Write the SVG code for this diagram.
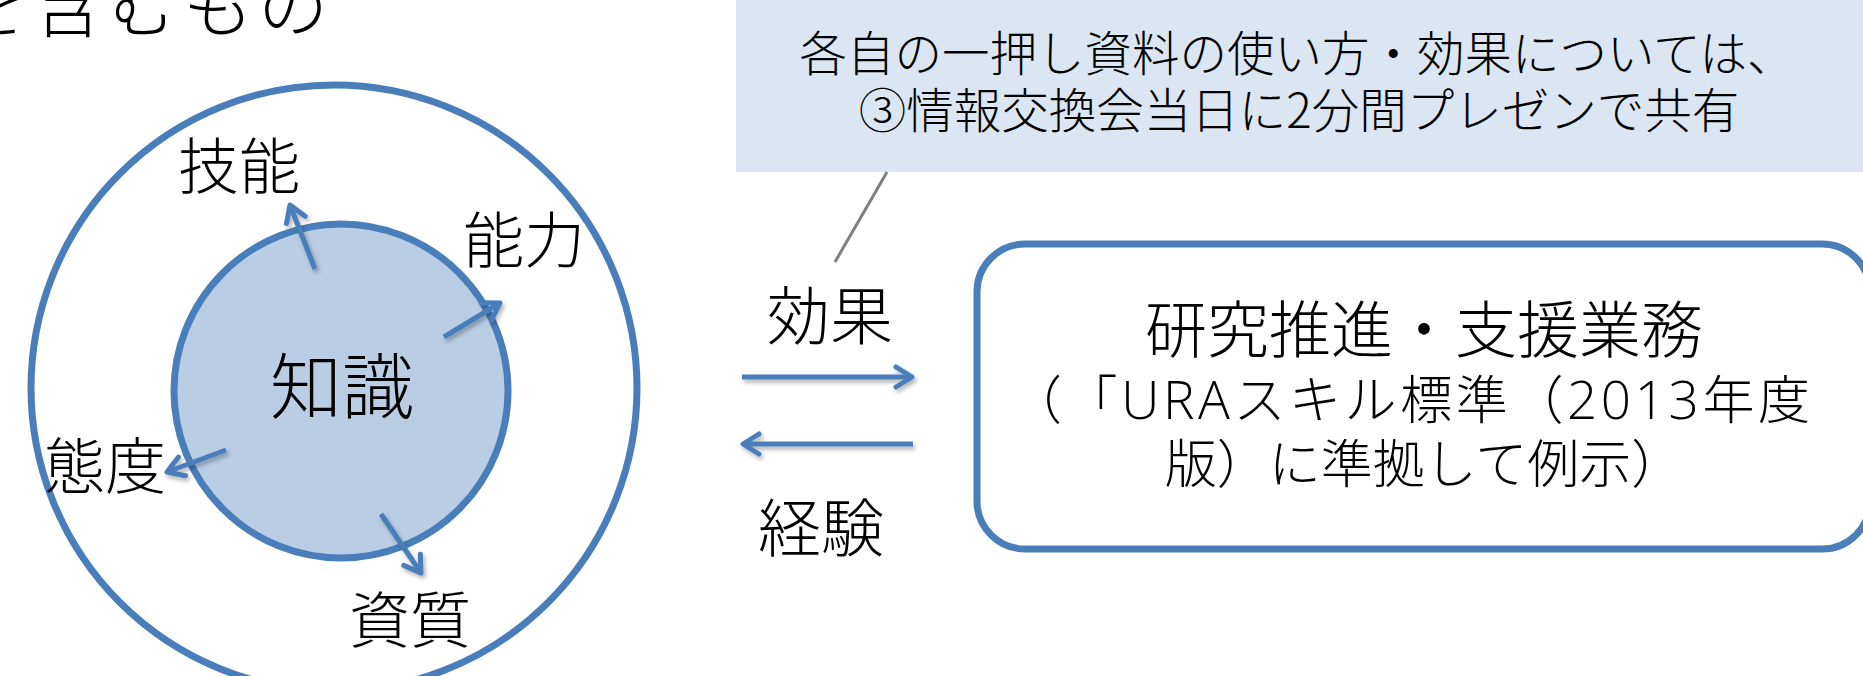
<svg xmlns="http://www.w3.org/2000/svg" width="1863" height="676" viewBox="0 0 1863 676">
  <style>
    .t { font-family: "Noto Sans CJK JP", "Noto Sans", sans-serif; font-weight: 300; fill: #000; text-spacing-trim: space-all; }
    .mid { text-anchor: middle; }
    .lat { font-family: "Open Sans", "Noto Sans", sans-serif; font-weight: 300; }
    .ring { fill: none; stroke: #4a7ebb; stroke-width: 7; }
    .arr { fill: none; stroke: #4a7ebb; stroke-width: 5; marker-end: url(#head); filter: url(#sh); }
  </style>
  <defs>
    <marker id="head" viewBox="0 0 22 26" refX="19" refY="13" markerWidth="22" markerHeight="26" markerUnits="userSpaceOnUse" orient="auto">
      <path d="M3,3 L19,13 L3,23" fill="none" stroke="#4a7ebb" stroke-width="5" stroke-linecap="round" stroke-linejoin="round"/>
    </marker>
    <filter id="sh" filterUnits="userSpaceOnUse" x="0" y="0" width="1863" height="676">
      <feDropShadow dx="2" dy="3" stdDeviation="2" flood-color="#000" flood-opacity="0.3"/>
    </filter>
  </defs>

  <g id="title">
    <text class="t" x="-42" y="32" font-size="70" letter-spacing="5">を含むもの</text>
  </g>

  <g id="outer-circle">
    <circle class="ring" cx="334" cy="388" r="303"/>
  </g>
  <g id="knowledge">
    <circle cx="341" cy="391" r="167" fill="#b9cde5" stroke="#4a7ebb" stroke-width="7"/>
    <text class="t mid" x="342" y="413" font-size="72">知識</text>
  </g>
  <g id="skill"><text class="t mid" x="239" y="189" font-size="61">技能</text></g>
  <g id="ability"><text class="t mid" x="524" y="263" font-size="61">能力</text></g>
  <g id="attitude"><text class="t mid" x="105" y="489" font-size="61">態度</text></g>
  <g id="quality"><text class="t mid" x="410" y="643" font-size="61">資質</text></g>

  <g id="callout">
    <rect x="736" y="-10" width="1140" height="182" fill="#dce6f2"/>
    <line x1="887" y1="172" x2="835" y2="262" stroke="#7f7f7f" stroke-width="3"/>
    <text class="t mid" x="1297" y="71" font-size="47.5">各自の一押し資料の使い方・効果については、</text>
    <text class="t mid" x="1299" y="128" font-size="47.5">③情報交換会当日に2分間プレゼンで共有</text>
  </g>

  <g id="effect-label"><text class="t mid" x="830" y="339" font-size="63">効果</text></g>
  <g id="experience-label"><text class="t mid" x="821" y="551" font-size="63">経験</text></g>

  <g id="work">
    <rect x="977" y="244" width="893" height="305" rx="48" ry="48" fill="#fff" stroke="#4a7ebb" stroke-width="7"/>
    <text class="t mid" x="1424" y="353" font-size="62">研究推進・支援業務</text>
    <text class="t" x="1010" y="419" font-size="52" textLength="800" lengthAdjust="spacing">（「<tspan class="lat" font-size="53">URA</tspan>スキル標準（<tspan class="lat" font-size="53">2013</tspan>年度</text>
    <text class="t mid" x="1424" y="483" font-size="52">版）に準拠して例示）</text>
  </g>

  <g id="connectors">
    <line class="arr" x1="315" y1="269" x2="290" y2="205"/>
    <line class="arr" x1="444" y1="337" x2="500" y2="303"/>
    <line class="arr" x1="226" y1="450" x2="167" y2="472"/>
    <line class="arr" x1="381" y1="514" x2="421" y2="573"/>
    <line class="arr" x1="742" y1="377" x2="912" y2="377"/>
    <line class="arr" x1="913" y1="444" x2="743" y2="444"/>
  </g>
</svg>
